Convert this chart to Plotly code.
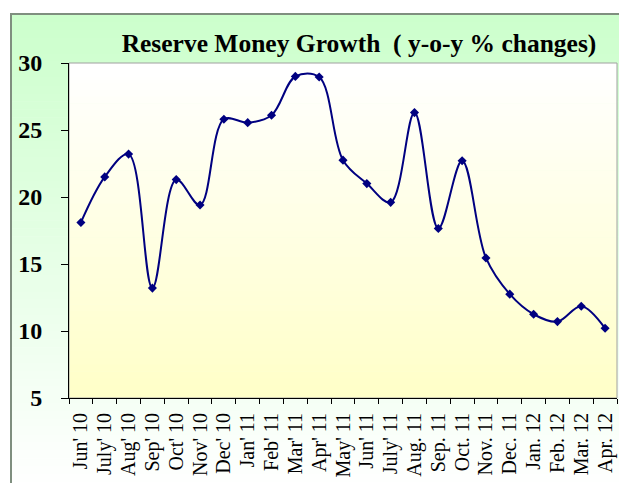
import plotly.graph_objects as go

months = ["Jun' 10", "July' 10", "Aug' 10", "Sep' 10", "Oct' 10", "Nov' 10", "Dec' 10",
          "Jan' 11", "Feb' 11", "Mar' 11", "Apr' 11", "May' 11", "Jun' 11", "July' 11",
          "Aug. 11", "Sep. 11", "Oct. 11", "Nov. 11", "Dec. 11", "Jan. 12", "Feb. 12",
          "Mar. 12", "Apr. 12"]
growth = [18.1, 21.5, 23.2, 13.2, 21.3, 19.4, 25.8, 25.55, 26.1, 29.0, 28.95, 22.75,
          21.0, 19.6, 26.3, 17.65, 22.7, 15.45, 12.75, 11.25, 10.7, 11.85, 10.2]
y_ticks = [5, 10, 15, 20, 25, 30]

W, H = 619, 483
L, R, T, B = 69, 617, 63, 398  # plot area pixel bounds


def px_x(p):
    return (p - L) / (R - L)


def px_y(p):
    return (B - p) / (B - T)


def mix(c1, c2, t):
    return "rgb(%d,%d,%d)" % tuple(round(a + (b - a) * t) for a, b in zip(c1, c2))


shapes = []
# outer frame gradient (light green -> white)
n = 60
top, bot = 14, 490
for i in range(n):
    y0 = top + (bot - top) * i / n
    y1 = top + (bot - top) * (i + 1) / n + 0.6
    shapes.append(dict(type="rect", xref="paper", yref="paper", layer="below",
                       x0=px_x(11), x1=px_x(640), y0=px_y(y1), y1=px_y(y0),
                       line=dict(width=0),
                       fillcolor=mix((204, 255, 204), (255, 255, 255), i / (n - 1))))
# plot area gradient (white -> light yellow)
m = 50
for i in range(m):
    y0 = T + (B - T) * i / m
    y1 = T + (B - T) * (i + 1) / m + 0.6
    shapes.append(dict(type="rect", xref="paper", yref="paper", layer="below",
                       x0=0, x1=1, y0=px_y(min(y1, B)), y1=px_y(y0),
                       line=dict(width=0),
                       fillcolor=mix((255, 255, 255), (255, 255, 200), i / (m - 1))))
# outer frame border
shapes.append(dict(type="rect", xref="paper", yref="paper", layer="below",
                   x0=px_x(11), x1=px_x(640), y0=px_y(495), y1=px_y(14),
                   line=dict(color="#7f8f7f", width=2), fillcolor="rgba(0,0,0,0)"))
# plot area border (gray)
shapes.append(dict(type="rect", xref="paper", yref="paper", layer="below",
                   x0=0, x1=1, y0=0, y1=1,
                   line=dict(color="#a0a0a0", width=1), fillcolor="rgba(0,0,0,0)"))

fig = go.Figure()
fig.add_trace(go.Scatter(
    x=months, y=growth, mode="lines+markers",
    line=dict(color="#000080", width=2, shape="spline", smoothing=1),
    marker=dict(symbol="diamond", size=7, color="#000080"),
    showlegend=False, cliponaxis=False))

fig.update_layout(
    width=W, height=H,
    margin=dict(l=L, r=W - R, t=T, b=H - B, autoexpand=False),
    paper_bgcolor="white", plot_bgcolor="rgba(0,0,0,0)",
    shapes=shapes,
    title=dict(text="<b>Reserve Money Growth  ( y-o-y % changes)</b>",
               font=dict(family="Liberation Serif", size=25.5, color="black"),
               xref="paper", x=px_x(359), xanchor="center",
               yref="container", y=1 - 43 / H, yanchor="middle"),
    xaxis=dict(type="category", range=[-0.5, len(months) - 0.5],
               tickmode="array", tickvals=months, ticktext=months,
               showline=True, linecolor="black", linewidth=1,
               ticks="outside", tickson="boundaries", ticklen=5, tickcolor="black",
               tickangle=-90, showgrid=False, zeroline=False, automargin=False,
               ticklabelstandoff=6,
               tickfont=dict(family="Liberation Serif", size=20, color="black")),
    yaxis=dict(range=[5, 30], tickvals=y_ticks,
               ticktext=["<b>%d</b>" % v for v in y_ticks],
               showline=True, linecolor="black", linewidth=1,
               ticks="outside", ticklen=7, tickcolor="black",
               showgrid=False, zeroline=False, automargin=False,
               ticklabelstandoff=14,
               tickfont=dict(family="Liberation Serif", size=24, color="black")),
)

fig.write_html(
    "out.html",
    config={"displayModeBar": False},
    post_script="document.body.style.margin='0';document.body.style.overflow='hidden';",
)
